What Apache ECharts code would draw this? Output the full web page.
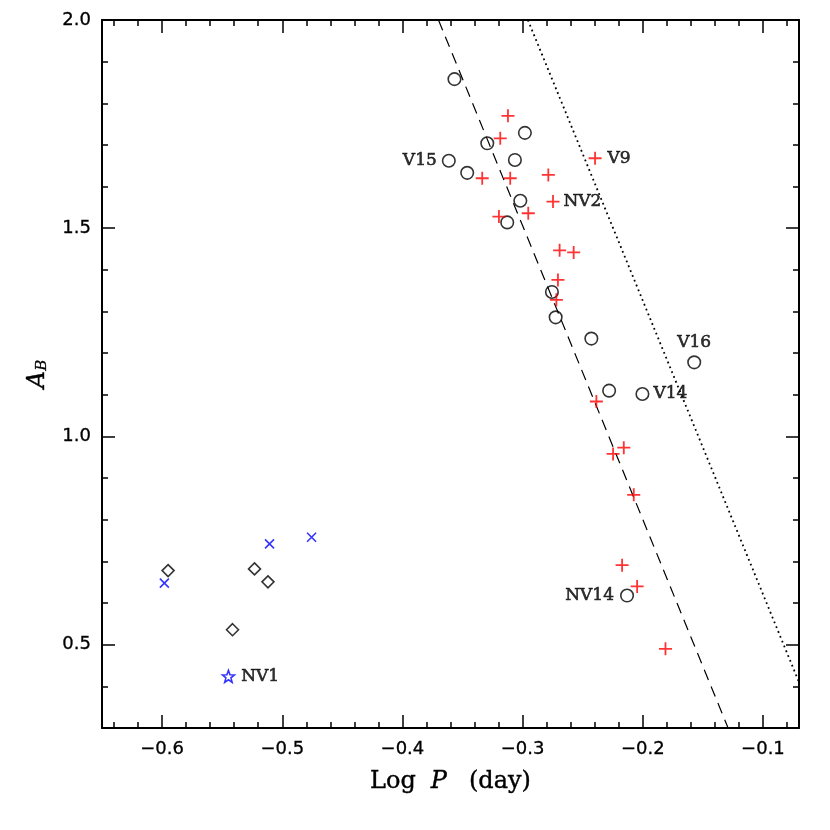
<!DOCTYPE html>
<html>
<head>
<meta charset="utf-8">
<script src="https://cdn.jsdelivr.net/npm/echarts@6/dist/echarts.min.js"></script>
<style>html,body{margin:0;padding:0;background:#fff;}#c{width:830px;height:830px;}</style>
</head>
<body>
<div id="c"></div>
<script>
// ---- data ----
const xRange = [-0.65, -0.07];
const yRange = [0.3, 2.0];
const xMajorTicks = [-0.6, -0.5, -0.4, -0.3, -0.2, -0.1];
const xMinorTicks = [-0.64, -0.62, -0.58, -0.56, -0.54, -0.52, -0.48, -0.46, -0.44, -0.42, -0.38, -0.36, -0.34, -0.32, -0.28, -0.26, -0.24, -0.22, -0.18, -0.16, -0.14, -0.12, -0.08];
const yMajorTicks = [0.5, 1.0, 1.5, 2.0];
const yMinorTicks = [0.4, 0.6, 0.7, 0.8, 0.9, 1.1, 1.2, 1.3, 1.4, 1.6, 1.7, 1.8, 1.9];

// open circles
const circleLogP = [-0.3567, -0.2981, -0.3294, -0.3614, -0.3064, -0.3461, -0.3019, -0.3128, -0.2756, -0.2725, -0.2428, -0.2280, -0.1572, -0.2003, -0.2131];
const circleAB   = [1.858, 1.729, 1.704, 1.662, 1.664, 1.633, 1.566, 1.514, 1.347, 1.286, 1.235, 1.110, 1.178, 1.102, 0.618];
const circleName = ['', '', '', 'V15', '', '', '', '', '', '', '', '', 'V16', 'V14', 'NV14'];

// red plus
const plusLogP = [-0.3122, -0.3186, -0.2397, -0.3336, -0.3103, -0.2786, -0.2747, -0.2953, -0.3197, -0.2692, -0.2575, -0.2706, -0.2719, -0.2386, -0.2158, -0.2247, -0.2075, -0.2172, -0.2047, -0.1811];
const plusAB   = [1.770, 1.716, 1.668, 1.620, 1.620, 1.628, 1.564, 1.536, 1.528, 1.447, 1.442, 1.376, 1.328, 1.084, 0.973, 0.958, 0.860, 0.691, 0.640, 0.490];
const plusName = ['', '', 'V9', '', '', '', 'NV2', '', '', '', '', '', '', '', '', '', '', '', '', ''];

// diamonds
const diamondLogP = [-0.5950, -0.5231, -0.5119, -0.5414];
const diamondAB   = [0.678, 0.682, 0.651, 0.536];

// blue crosses
const crossLogP = [-0.5981, -0.5106, -0.4756];
const crossAB   = [0.648, 0.742, 0.758];

// blue star
const starLogP = [-0.5448];
const starAB   = [0.424];
const starName = ['NV1'];

// relations
const dashedLine = [[-0.370, 2.0], [-0.129, 0.3]];
const dottedLine = [[-0.2956, 2.0], [-0.07, 0.41]];

// ---- styling ----
const labelPos = {
  V15: {position: 'left', distance: 5},
  V16: {position: 'top', distance: 4},
  V14: {position: 'right', distance: 4},
  NV14: {position: 'left', distance: 6},
  V9: {position: 'right', distance: 5},
  NV2: {position: 'right', distance: 3},
  NV1: {position: 'right', distance: 6}
};
const labelText = {fontFamily: 'DejaVu Serif', fontSize: 17, color: '#000', textBorderColor: '#000', textBorderWidth: 0.6};

function items(xs, ys, names) {
  return xs.map((x, i) => {
    const n = names ? names[i] : '';
    const it = {value: [x, ys[i]], name: n};
    if (n) {
      it.label = Object.assign({show: true, formatter: n}, labelText, labelPos[n]);
    }
    return it;
  });
}

const tickFont = {fontFamily: 'DejaVu Sans', fontSize: 18, color: '#000', textBorderColor: '#000', textBorderWidth: 0.3};
const minus = v => (v < 0 ? '\u2212' : '') + Math.abs(v).toFixed(1);

function xAx(pos, values, len, withLabel, withLine, extra) {
  return Object.assign({
    type: 'value', position: pos, min: xRange[0], max: xRange[1],
    axisLine: {show: withLine, onZero: false, lineStyle: {color: '#000', width: 2}},
    axisTick: {show: true, inside: true, length: len, customValues: values, lineStyle: {color: '#000', width: 1.5}},
    axisLabel: withLabel ? Object.assign({show: true, customValues: values, margin: 12, formatter: minus}, tickFont) : {show: false},
    splitLine: {show: false}
  }, extra || {});
}
function yAx(pos, values, len, withLabel, withLine, extra) {
  return Object.assign({
    type: 'value', position: pos, min: yRange[0], max: yRange[1],
    axisLine: {show: withLine, onZero: false, lineStyle: {color: '#000', width: 2}},
    axisTick: {show: true, inside: true, length: len, customValues: values, lineStyle: {color: '#000', width: 1.5}},
    axisLabel: withLabel ? Object.assign({show: true, customValues: values, margin: 11, formatter: v => v.toFixed(1)}, tickFont) : {show: false},
    splitLine: {show: false}
  }, extra || {});
}

const starPath = 'path://M0,-1L0.247,-0.34L0.951,-0.309L0.399,0.13L0.588,0.809L0,0.42L-0.588,0.809L-0.399,0.13L-0.951,-0.309L-0.247,-0.34Z';

const option = {
  backgroundColor: '#fff',
  animation: false,
  grid: {left: 102, right: 31, top: 20, bottom: 102},
  xAxis: [
    xAx('bottom', xMajorTicks, 13, true, true, {
      name: '{n|Log}{i|P}{n|(day)}', nameLocation: 'middle', nameGap: 42,
      nameTextStyle: {
        rich: {
          n: {fontFamily: 'DejaVu Serif', fontSize: 24, color: '#000', textBorderColor: '#000', textBorderWidth: 0.4},
          i: {fontFamily: 'DejaVu Serif', fontSize: 24, fontStyle: 'italic', color: '#000', textBorderColor: '#000', textBorderWidth: 0.4, padding: [0, 22, 0, 15]}
        }
      }
    }),
    xAx('top', xMajorTicks, 13, false, true),
    xAx('bottom', xMinorTicks, 6, false, false),
    xAx('top', xMinorTicks, 6, false, false)
  ],
  yAxis: [
    yAx('left', yMajorTicks, 13, true, true, {
      name: '{a|A}{b|B}', nameLocation: 'middle', nameGap: 52, nameRotate: 90,
      nameTextStyle: {
        rich: {
          a: {fontFamily: 'DejaVu Serif', fontSize: 24, fontStyle: 'italic', color: '#000', textBorderColor: '#000', textBorderWidth: 0.4, verticalAlign: 'bottom', lineHeight: 30},
          b: {fontFamily: 'DejaVu Serif', fontSize: 15, fontStyle: 'italic', color: '#000', textBorderColor: '#000', textBorderWidth: 0.3, verticalAlign: 'bottom', lineHeight: 22}
        }
      }
    }),
    yAx('right', yMajorTicks, 13, false, true),
    yAx('left', yMinorTicks, 6, false, false),
    yAx('right', yMinorTicks, 6, false, false)
  ],
  series: [
    {
      type: 'line', data: dashedLine, symbol: 'none', silent: true, z: 1,
      lineStyle: {color: '#000', width: 1.2, type: [11, 7]}
    },
    {
      type: 'line', data: dottedLine, symbol: 'none', silent: true, z: 1,
      lineStyle: {color: '#000', width: 1.8, type: [1.8, 3.4]}
    },
    {
      type: 'scatter', data: items(circleLogP, circleAB, circleName), symbol: 'circle', symbolSize: 12.5,
      itemStyle: {color: 'rgba(0,0,0,0)', borderColor: '#000', borderWidth: 1.6}, z: 3
    },
    {
      type: 'scatter', data: items(plusLogP, plusAB, plusName), symbol: 'path://M0,-1L0,1M-1,0L1,0', symbolSize: 13,
      itemStyle: {color: 'rgba(0,0,0,0)', borderColor: '#ff0000', borderWidth: 1.8}, z: 4
    },
    {
      type: 'scatter', data: items(diamondLogP, diamondAB), symbol: 'diamond', symbolSize: 12,
      itemStyle: {color: 'rgba(0,0,0,0)', borderColor: '#000', borderWidth: 1.6}, z: 3
    },
    {
      type: 'scatter', data: items(crossLogP, crossAB), symbol: 'path://M-1,-1L1,1M-1,1L1,-1', symbolSize: 9,
      itemStyle: {color: 'rgba(0,0,0,0)', borderColor: '#0000ff', borderWidth: 1.6}, z: 3
    },
    {
      type: 'scatter', data: items(starLogP, starAB, starName), symbol: starPath, symbolSize: 12,
      itemStyle: {color: 'rgba(0,0,0,0)', borderColor: '#0000ff', borderWidth: 1.6}, z: 3
    }
  ]
};

const chart = echarts.init(document.getElementById('c'), null, {renderer: 'canvas'});
chart.setOption(option);
</script>
</body>
</html>
